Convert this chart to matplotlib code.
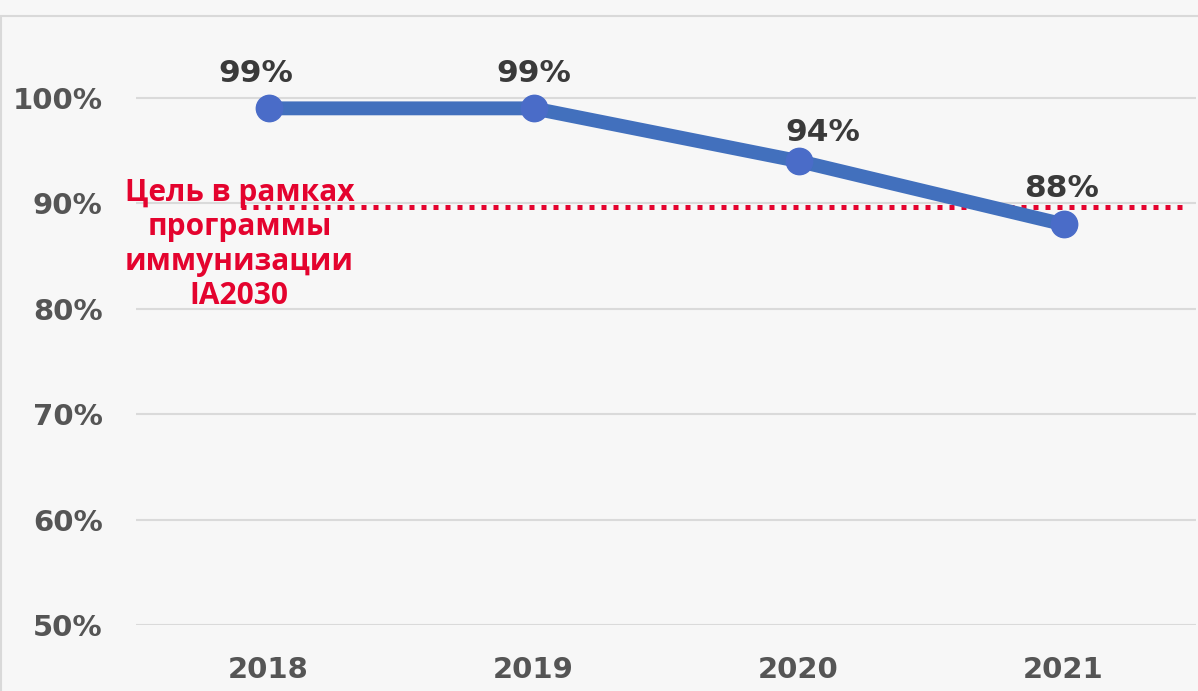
import matplotlib.pyplot as plt
from matplotlib.patches import Rectangle

# Data
years = ['2018', '2019', '2020', '2021']
coverage = [99, 99, 94, 88]
labels = ['99%', '99%', '94%', '88%']
target = 89.6
target_text = 'Цель в рамках\nпрограммы\nиммунизации\nIA2030'
yticks = [50, 60, 70, 80, 90, 100]

W, H = 1198, 691
fig = plt.figure(figsize=(W / 100, H / 100), dpi=100, facecolor='#f7f7f7')

# light frame around the chart area
fig.patches.append(Rectangle((1 / W, -0.1), 1.2, 1 - 16 / H + 0.1, transform=fig.transFigure,
                             facecolor='none', edgecolor='#d9d9d9', lw=1.5, zorder=-1))

ax = fig.add_axes([136 / W, 1 - 625 / H, (1196 - 136) / W, (625 - 24) / H])
ax.set_facecolor('none')

x = list(range(len(years)))
ax.plot(x, coverage, color='#4270bd', lw=10, solid_capstyle='round', zorder=3)
ax.plot(x, coverage, 'o', color='#4a6cc8', ms=19, zorder=4)

dx = [-13, 0, 24, -2]
dy = [35, 35, 29, 36]
for xi, v, lab, d, e in zip(x, coverage, labels, dx, dy):
    ax.annotate(lab, (xi, v), xytext=(d, e), textcoords='offset pixels', ha='center', va='center',
                fontsize=22.5, fontweight='bold', color='#3a3a3a', zorder=5)

ax.plot([-0.104, 3.45], [target, target], color='#e4032e', lw=3.6, ls=(0, (1, 1.4)), zorder=2)
ax.text(-0.11, 86.1, target_text, ha='center', va='center', fontsize=21.5, fontweight='bold',
        family='Open Sans', color='#e4032e', linespacing=1.19, zorder=6)

ax.set_xlim(-0.5, 3.5)
ax.set_ylim(50, 107)
ax.set_yticks(yticks)
ax.set_yticklabels([f'{t}%' for t in yticks])
ax.set_xticks(x)
ax.set_xticklabels(years)
ax.grid(axis='y', color='#dadada', lw=1.5)
ax.set_axisbelow(True)
for s in ax.spines.values():
    s.set_visible(False)
ax.tick_params(length=0, labelsize=21, labelcolor='#555555')
ax.tick_params(axis='y', pad=24)
ax.tick_params(axis='x', pad=22)
for t in ax.get_xticklabels() + ax.get_yticklabels():
    t.set_fontweight('bold')

fig.savefig('out.png', dpi=100, facecolor=fig.get_facecolor())
